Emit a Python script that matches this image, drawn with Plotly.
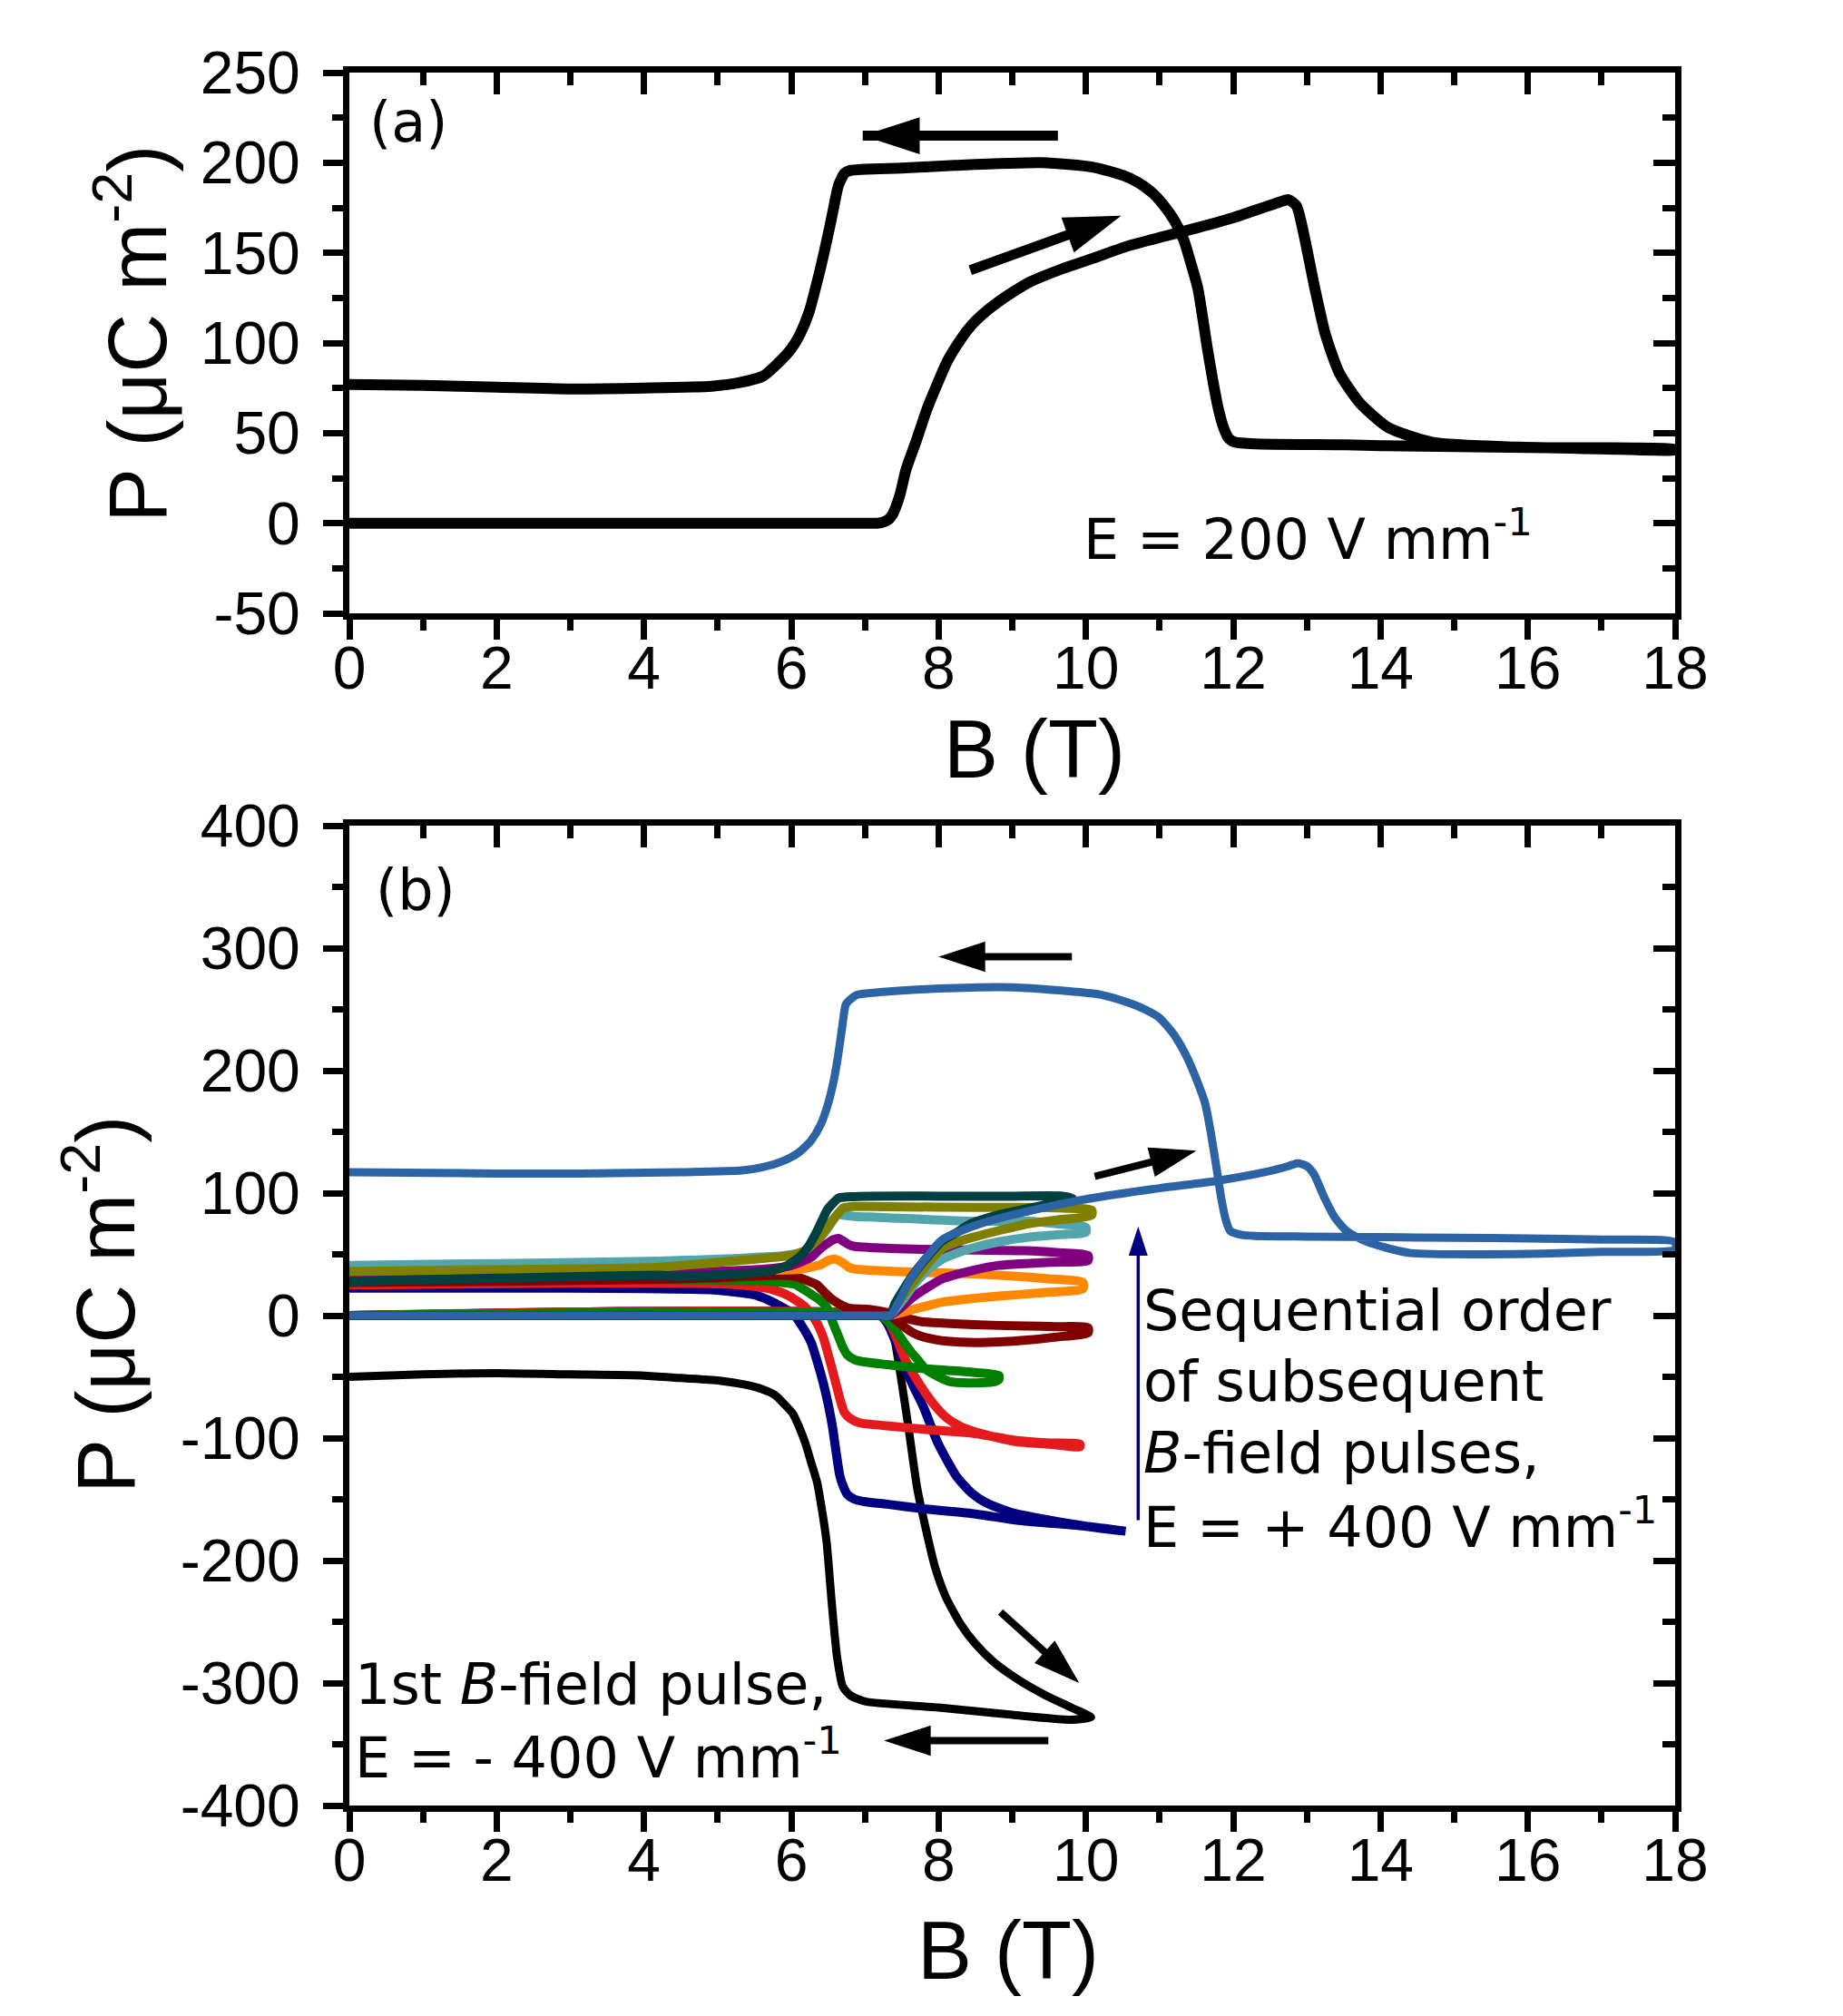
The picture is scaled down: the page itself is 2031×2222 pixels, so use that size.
import plotly.graph_objects as go

W, H = 2031, 2222
OFF_X = 4  # page offset compensation (horizontal)
OFF_Y = 8  # page offset compensation (vertical)
FONT = "DejaVu Sans"
AXFONT = "Liberation Sans"

# ---------------- Panel (a) data: E = 200 V/mm ----------------
A_UP_B = [0, 2, 4, 6, 7.0, 7.18, 7.3, 7.37, 7.47, 7.56, 7.7, 7.84, 7.98, 8.12, 8.3, 8.45, 8.6, 8.8, 9.0,
          9.25, 9.63, 10.1, 10.57, 11.05, 11.52, 12.0, 12.4, 12.62, 12.75,
          12.86, 12.95, 13.11, 13.25, 13.44, 13.72, 14.1, 14.71, 15.89, 17.0, 18.0]
A_UP_P = [0, 0, 0, 0, 0, 0, 1.5, 4.5, 15, 30, 46, 63, 77, 90, 102, 110, 116, 122.5, 128,
          134, 140.4, 147, 153.8, 159, 164, 169.5, 175, 178, 179.5,
          176, 162, 130, 105, 83.4, 66.6, 53.2, 44.8, 42.2, 41.2, 40.6]
A_DN_B = [18, 16, 14, 13.53, 12.3, 12.02, 11.94, 11.87, 11.8, 11.72, 11.65, 11.52, 11.42, 11.33, 11.2,
          11.04, 10.91, 10.71, 10.5, 10.1, 9.4, 8.22, 7.5, 6.8, 6.72, 6.64, 6.58, 6.52, 6.45, 6.38,
          6.24, 6.12, 6.0, 5.8, 5.62, 5.3, 4.92, 4.0, 3.0, 2.0, 1.0, 0]
A_DN_P = [41, 42, 43, 43.5, 44, 45, 47, 53, 63.2, 80, 96.8, 130.3, 145, 157, 168,
          177.3, 183, 189, 193, 197.5, 200, 198.5, 197, 195.7, 194, 187.4, 176, 164, 151, 138.7,
          117, 105, 96.8, 88, 81.7, 78, 76, 75, 74.5, 75.5, 76.5, 77]

# ---------------- Panel (b) data: sequence of B-field pulses ----------------
# each series: up-sweep (B, P) followed by down-sweep (B, P)
BLACK_UP_B = [0, 3, 6, 7.2, 7.34, 7.42, 7.5, 7.59, 7.71, 7.83, 7.95, 8.1, 8.3, 8.5, 8.75, 9.1, 9.45, 9.8, 10.07]
BLACK_UP_P = [0, 0, 0, 0, -5, -25, -55, -91, -141, -175, -205, -230, -252, -268, -283, -298, -310, -320, -328]
BLACK_DN_B = [9.8, 9.0, 8.0, 7.0, 6.8, 6.7, 6.62, 6.55, 6.48, 6.42, 6.35, 6.27, 6.19, 6.1, 6.02, 5.9,
              5.78, 5.6, 5.42, 5.0, 4.5, 4.0, 3.0, 2.0, 1.0, 0]
BLACK_DN_P = [-330, -326, -320, -315, -310, -303, -278, -235, -185, -160, -136, -120, -104, -90, -80, -72,
              -65, -60, -57, -53, -51, -49, -48, -47, -48, -50]

NAVY_UP_B = [0, 7.2, 7.3, 7.42, 7.54, 7.66, 7.79, 7.99, 8.24, 8.45, 8.65, 9.0, 9.5, 10.0, 10.54]
NAVY_UP_P = [0, 0, -6, -22, -42, -58, -74, -104, -131, -145, -153, -161, -167, -172, -176]
NAVY_DN_B = [10.0, 9.06, 8.5, 7.83, 7.3, 7.01, 6.86, 6.76, 6.71, 6.66, 6.61, 6.56, 6.5, 6.43, 6.35, 6.27,
             6.15, 6.02, 5.9, 5.78, 5.64, 5.5, 5.2, 4.94, 4.0, 2.0, 0]
NAVY_DN_P = [-172, -167, -162, -158, -154, -152, -150, -146, -140, -131, -112, -91, -72, -54, -37, -22,
             -9, 2, 6, 10, 14, 17, 19.5, 21, 22, 22.5, 22.5]

RED_UP_B = [0, 7.2, 7.34, 7.44, 7.54, 7.68, 7.83, 7.97, 8.12, 8.28, 8.45, 8.75, 9.06, 9.5, 9.92]
RED_UP_P = [0, 0, -7, -20, -35, -50, -64, -75, -84, -90, -94, -99, -103, -105, -107]
RED_DN_B = [9.92, 9.5, 9.06, 8.45, 7.83, 7.3, 6.93, 6.8, 6.72, 6.66, 6.6, 6.52, 6.43, 6.32, 6.19, 6.05,
            5.9, 5.7, 5.4, 5.0, 3.0, 0]
RED_DN_P = [-105, -104, -102, -96, -93, -90, -87.6, -84, -79, -68, -54, -36, -17, -3, 7, 13,
            18, 22, 24.5, 26, 26.5, 25]

GREEN_UP_B = [0, 7.2, 7.3, 7.42, 7.52, 7.63, 7.73, 7.83, 8.0, 8.16, 8.4, 8.76, 8.82]
GREEN_UP_P = [0, 0, -4, -12, -21, -30, -37, -44, -50, -54, -55, -54, -52]
GREEN_DN_B = [8.82, 8.4, 7.75, 7.3, 7.01, 6.86, 6.76, 6.7, 6.64, 6.56, 6.48, 6.38, 6.28, 6.15, 6.05,
              5.8, 5.64, 4.5, 3.0, 0]
GREEN_DN_P = [-49, -46, -43, -40, -38, -36, -32, -26, -17, -5, 7, 13, 17, 22, 25.5,
              27.5, 28.5, 29, 29, 28]

DRED_UP_B = [0, 7.2, 7.34, 7.45, 7.55, 7.65, 7.77, 7.95, 8.12, 8.5, 8.82, 9.2, 9.6, 10.03]
DRED_UP_P = [0, 0, 0, -5, -10, -14, -17, -19.5, -21, -22, -21.5, -20, -17.5, -14]
DRED_DN_B = [10.03, 9.6, 9.18, 8.47, 7.77, 7.55, 7.34, 7.06, 6.86, 6.78, 6.7, 6.57, 6.45, 6.35, 6.2,
             6.05, 5.85, 5.64, 5.0, 4.2, 2.0, 0]
DRED_DN_P = [-10, -9, -8.6, -7.4, -5, -2, 2, 5, 5.5, 6, 8, 12.5, 19, 25, 29,
             32, 33, 32.6, 31, 29.6, 28, 27]

ORANGE_UP_B = [0, 7.2, 7.34, 7.5, 7.65, 7.85, 8.05, 8.47, 8.82, 9.5, 9.96]
ORANGE_UP_P = [0, 0, 0, 2.5, 5, 8, 11, 14, 16, 19, 22]
ORANGE_DN_B = [9.96, 9.5, 9.2, 8.47, 7.65, 7.06, 6.86, 6.78, 6.7, 6.6, 6.5, 6.4, 6.3, 6.07, 5.64, 4.5, 2.0, 0]
ORANGE_DN_P = [27, 30, 31.5, 34, 35.5, 37, 38, 39.5, 43, 46, 45, 41.5, 40, 37.5, 37, 36, 36, 35.5]

PURPLE_UP_B = [0, 7.2, 7.34, 7.5, 7.65, 7.85, 8.05, 8.47, 8.82, 9.5, 10.03]
PURPLE_UP_P = [0, 0, 0, 7, 15, 23, 30, 37, 41, 43.5, 45]
PURPLE_DN_B = [10.03, 9.6, 9.18, 8.5, 7.77, 7.06, 6.86, 6.78, 6.7, 6.64, 6.57, 6.49, 6.38, 6.28, 6.14,
               5.99, 5.64, 4.5, 2.0, 0]
PURPLE_DN_P = [49, 51.5, 53, 53.5, 54, 55.6, 56.5, 58, 61, 63, 62, 59, 54, 48, 44,
               40.7, 38, 35, 34, 33]

CADET_UP_B = [0, 7.2, 7.34, 7.41, 7.53, 7.65, 7.85, 8.05, 8.25, 8.45, 8.8, 9.22, 9.6, 10.0]
CADET_UP_P = [0, 0, 0, 5, 14, 24, 37, 46, 51, 55, 60, 64, 66, 68]
CADET_DN_B = [10.0, 9.6, 9.22, 8.47, 7.65, 7.06, 6.86, 6.78, 6.7, 6.64, 6.57, 6.49, 6.42, 6.35, 6.25,
              6.14, 5.9, 5.64, 5.29, 4.2, 2.0, 0]
CADET_DN_P = [72, 75, 77, 77, 79, 80.5, 81, 81.5, 82, 82.7, 78, 71, 66, 61.7, 56,
              51.8, 49, 48, 46.7, 44.4, 42.5, 41]

OLIVE_UP_B = [0, 7.2, 7.34, 7.41, 7.53, 7.65, 7.85, 8.05, 8.25, 8.47, 8.86, 9.22, 9.6, 10.08]
OLIVE_UP_P = [0, 0, 0, 7, 17, 27, 42, 55, 60, 64, 70, 75, 78, 82]
OLIVE_DN_B = [10.08, 9.6, 9.0, 8.0, 7.06, 6.84, 6.78, 6.71, 6.63, 6.55, 6.47, 6.38, 6.27, 6.15, 5.99,
              5.68, 5.3, 4.2, 2.0, 0]
OLIVE_DN_P = [86, 88, 88.3, 88.5, 89, 89, 88.7, 88, 83, 77, 70, 63, 57, 52, 49,
              47, 45, 39.5, 37.5, 36]

SLATE_UP_B = [0, 7.2, 7.34, 7.41, 7.53, 7.65, 7.85, 8.05, 8.25, 8.43, 8.8, 9.22, 9.5, 9.77]
SLATE_UP_P = [0, 0, 0, 10, 22, 33, 48, 61, 68, 74.8, 82, 87.5, 91, 94]
SLATE_DN_B = [9.82, 9.68, 9.0, 8.0, 7.06, 6.8, 6.7, 6.64, 6.57, 6.49, 6.42, 6.35, 6.25, 6.14, 5.95,
              5.76, 5.3, 4.5, 4.2, 2.0, 0]
SLATE_DN_P = [95.5, 97.5, 97.5, 97.5, 97.5, 97, 96.5, 96, 92, 86.4, 78, 69, 58, 49.4, 41,
              37, 34, 32, 33, 30.5, 28]

STEEL_UP_B = [0, 3, 6, 7.2, 7.34, 7.45, 7.6, 7.8, 8.05, 8.3, 8.47, 8.86, 9.5, 10.0, 11.0, 11.78, 12.5,
              12.75, 12.88, 13.0, 13.1, 13.24, 13.38, 13.54, 13.75, 13.98, 14.41, 15.44, 16.2, 17.0, 18.0]
STEEL_UP_P = [0, 0, 0, 0, 0, 10, 28, 45, 62, 69, 73, 80, 89, 95, 104, 110, 118,
              122, 124.5, 122, 115, 96, 80, 69, 62, 57, 51, 50, 50.5, 52, 54]
STEEL_DN_B = [18, 17, 16, 15, 14, 13, 12.3, 12.1, 11.96, 11.9, 11.84, 11.78, 11.7, 11.62, 11.5, 11.38,
              11.2, 11.0, 10.8, 10.6, 10.2, 9.02, 8.0, 7.2, 6.9, 6.8, 6.74, 6.69, 6.63, 6.57, 6.5, 6.4,
              6.27, 6.1, 5.88, 5.6, 5.33, 4.5, 3.13, 2.0, 0]
STEEL_DN_P = [60, 62, 63, 63.5, 64, 64.5, 65, 66, 69, 78, 95, 118, 148, 173, 193, 210,
              229, 243, 250, 255, 262, 268, 267, 264, 262, 258, 254, 235, 210, 190, 173, 156,
              143, 133, 126, 121, 118.5, 117, 116, 116, 117]

B_SERIES = [
    ("1st pulse", "#000000", 9, BLACK_UP_B, BLACK_UP_P, BLACK_DN_B, BLACK_DN_P),
    ("2", "#000080", 10, NAVY_UP_B, NAVY_UP_P, NAVY_DN_B, NAVY_DN_P),
    ("3", "#e41a1c", 10, RED_UP_B, RED_UP_P, RED_DN_B, RED_DN_P),
    ("4", "#008000", 10, GREEN_UP_B, GREEN_UP_P, GREEN_DN_B, GREEN_DN_P),
    ("5", "#800000", 10, DRED_UP_B, DRED_UP_P, DRED_DN_B, DRED_DN_P),
    ("6", "#ff8800", 10, ORANGE_UP_B, ORANGE_UP_P, ORANGE_DN_B, ORANGE_DN_P),
    ("7", "#800080", 10, PURPLE_UP_B, PURPLE_UP_P, PURPLE_DN_B, PURPLE_DN_P),
    ("8", "#52a6ab", 10, CADET_UP_B, CADET_UP_P, CADET_DN_B, CADET_DN_P),
    ("9", "#808000", 10, OLIVE_UP_B, OLIVE_UP_P, OLIVE_DN_B, OLIVE_DN_P),
    ("10", "#004040", 10, SLATE_UP_B, SLATE_UP_P, SLATE_DN_B, SLATE_DN_P),
    ("last", "#2c63a5", 9, STEEL_UP_B, STEEL_UP_P, STEEL_DN_B, STEEL_DN_P),
]

# tick values / labels
X_TICKS = [0, 2, 4, 6, 8, 10, 12, 14, 16, 18]
X_MINOR = [1, 3, 5, 7, 9, 11, 13, 15, 17]
YA_TICKS = [-50, 0, 50, 100, 150, 200, 250]
YA_LABELS = ["-50", "0", "50", "100", "150", "200", "250"]
YA_MINOR = [-25, 25, 75, 125, 175, 225]
YB_TICKS = [-400, -300, -200, -100, 0, 100, 200, 300, 400]
YB_LABELS = ["-400", "-300", "-200", "-100", "0", "100", "200", "300", "400"]
YB_MINOR = [-350, -250, -150, -50, 50, 150, 250, 350]

# arrows: (x_tail, y_tail, x_head, y_head)
ARROWS_A = [(9.62, 215, 6.97, 215), (8.43, 140.4, 10.48, 170.6)]
ARROWS_B = [(9.81, 293, 8.0, 293), (10.12, 113.6, 11.5, 134.6),
            (8.84, -242, 9.91, -300), (9.49, -347, 7.26, -347)]
ARROW_NAVY = (10.71, -167, 10.71, 72.8)


# ---------------- layout geometry (pixel positions in the target picture) ----------------
def px(x):
    return (x - OFF_X) / W


def py(y):
    return 1 - (y - OFF_Y) / H


XD = [px(381), px(1842)]
YA_D = [py(676), py(80)]
YB_D = [py(1990), py(910)]

fig = go.Figure()

# panel (a)
fig.add_trace(go.Scatter(x=A_UP_B + A_DN_B, y=A_UP_P + A_DN_P, mode="lines",
                         line=dict(color="black", width=12, shape="spline", smoothing=0.6),
                         xaxis="x", yaxis="y", showlegend=False, hoverinfo="skip"))

# panel (b)
for name, col, lw, ub, up, db, dp in B_SERIES:
    fig.add_trace(go.Scatter(x=ub + db, y=up + dp, mode="lines", name=name,
                             line=dict(color=col, width=lw, shape="spline", smoothing=0.6),
                             xaxis="x2", yaxis="y2", showlegend=False, hoverinfo="skip"))


def arrow(a, width, size, color, xa, ya):
    x0, y0, x1, y1 = a
    return go.Scatter(x=[x0, x1], y=[y0, y1], mode="lines+markers",
                      line=dict(color=color, width=width),
                      marker=dict(symbol=["circle", "arrow"], size=[0, size], angleref="previous",
                                  color=color, opacity=1, line=dict(width=0, color=color)),
                      opacity=1,
                      xaxis=xa, yaxis=ya, showlegend=False, hoverinfo="skip")


for a in ARROWS_A:
    fig.add_trace(arrow(a, 11, 66, "black", "x", "y"))
for a in ARROWS_B:
    fig.add_trace(arrow(a, 8, 54, "black", "x2", "y2"))
fig.add_trace(arrow(ARROW_NAVY, 3.5, 34, "#000080", "x2", "y2"))

# dummy traces so the mirrored (inside-tick) axes are drawn
fig.add_trace(go.Scatter(x=[None], y=[None], xaxis="x3", yaxis="y3", showlegend=False, hoverinfo="skip"))
fig.add_trace(go.Scatter(x=[None], y=[None], xaxis="x4", yaxis="y4", showlegend=False, hoverinfo="skip"))

tickfont = dict(family=AXFONT, size=66, color="black")
common_main = dict(showline=True, linewidth=7, linecolor="black", mirror=True, showgrid=False,
                   zeroline=False, ticks="outside", ticklen=22, tickwidth=7, tickcolor="black",
                   tickfont=tickfont, automargin=False)
common_in = dict(showline=False, showgrid=False, zeroline=False, ticks="inside", ticklen=24,
                 tickwidth=7, tickcolor="black", showticklabels=False, automargin=False)


def xmain(anchor, labels_standoff):
    return dict(domain=XD, anchor=anchor, range=[0, 18], tickmode="array", tickvals=X_TICKS,
                ticktext=[str(v) for v in X_TICKS], ticklabelstandoff=labels_standoff,
                minor=dict(tickmode="array", tickvals=X_MINOR, ticks="outside", ticklen=12,
                           tickwidth=7, tickcolor="black"),
                **common_main)


def xin(over, anchor):
    return dict(overlaying=over, anchor=anchor, side="top", range=[0, 18], tickmode="array",
                tickvals=X_TICKS,
                minor=dict(tickmode="array", tickvals=X_MINOR, ticks="inside", ticklen=14,
                           tickwidth=7, tickcolor="black"),
                **common_in)


def ymain(dom, anchor, rng, tv, tt, mv):
    return dict(domain=dom, anchor=anchor, range=rng, tickmode="array", tickvals=tv, ticktext=tt,
                ticklabelstandoff=12,
                minor=dict(tickmode="array", tickvals=mv, ticks="outside", ticklen=12,
                           tickwidth=7, tickcolor="black"),
                **common_main)


def yin(over, anchor, rng, tv, mv):
    return dict(overlaying=over, anchor=anchor, side="right", range=rng, tickmode="array",
                tickvals=tv,
                minor=dict(tickmode="array", tickvals=mv, ticks="inside", ticklen=14,
                           tickwidth=7, tickcolor="black"),
                **common_in)


fig.update_layout(
    template="none",
    width=W, height=H,
    margin=dict(l=0, r=0, t=0, b=0, autoexpand=False),
    paper_bgcolor="white", plot_bgcolor="white",
    font=dict(family=FONT, color="black"),
    showlegend=False,
    xaxis=xmain("y", -25),
    yaxis=ymain(YA_D, "x", [-50, 250], YA_TICKS, YA_LABELS, YA_MINOR),
    xaxis2=xmain("y2", -25),
    yaxis2=ymain(YB_D, "x2", [-400, 400], YB_TICKS, YB_LABELS, YB_MINOR),
    xaxis3=xin("x", "y"),
    yaxis3=yin("y", "x", [-50, 250], YA_TICKS, YA_MINOR),
    xaxis4=xin("x2", "y2"),
    yaxis4=yin("y2", "x2", [-400, 400], YB_TICKS, YB_MINOR),
)

ann_font = dict(family=FONT, size=62, color="black")
title_font = dict(family=AXFONT, size=90, color="black")
annotations = [
    # axis titles
    dict(text="B (T)", x=px(1136), y=py(826), xref="paper", yref="paper",
         xanchor="center", yanchor="middle", showarrow=False, font=title_font),
    dict(text="B (T)", x=px(1107), y=py(2150), xref="paper", yref="paper",
         xanchor="center", yanchor="middle", showarrow=False, font=title_font),
    dict(text="P (\u03bcC m<sup>-2</sup>)", x=px(141), y=py(368), xref="paper", yref="paper",
         xanchor="center", yanchor="middle", textangle=-90, showarrow=False, font=title_font),
    dict(text="P (\u03bcC m<sup>-2</sup>)", x=px(106), y=py(1438), xref="paper", yref="paper",
         xanchor="center", yanchor="middle", textangle=-90, showarrow=False, font=title_font),
    # panel (a) labels
    dict(text="(a)", x=0.25, y=222.5, xref="x", yref="y", xanchor="left", yanchor="middle",
         showarrow=False, font=ann_font),
    dict(text="E = 200 V mm<sup>-1</sup>", x=9.94, y=-7, xref="x", yref="y",
         xanchor="left", yanchor="middle", showarrow=False, font=ann_font),
    # panel (b) labels
    dict(text="(b)", x=0.33, y=348, xref="x2", yref="y2", xanchor="left", yanchor="middle",
         showarrow=False, font=ann_font),
]
seq_lines = ["Sequential order", "of subsequent", "<i>B</i>-field pulses,",
             "E = + 400 V mm<sup>-1</sup>"]
seq_y = [4, -54, -112, -170]
for t, yv in zip(seq_lines, seq_y):
    annotations.append(dict(text=t, x=10.75, y=yv, xref="x2", yref="y2", xanchor="left",
                            yanchor="middle", showarrow=False, font=ann_font))
first_lines = ["1st <i>B</i>-field pulse,", "E = - 400 V mm<sup>-1</sup>"]
first_y = [-301, -358]
for t, yv in zip(first_lines, first_y):
    annotations.append(dict(text=t, x=0.05, y=yv, xref="x2", yref="y2", xanchor="left",
                            yanchor="middle", showarrow=False, font=ann_font))

fig.update_layout(annotations=annotations)

fig.write_html("out.html")
